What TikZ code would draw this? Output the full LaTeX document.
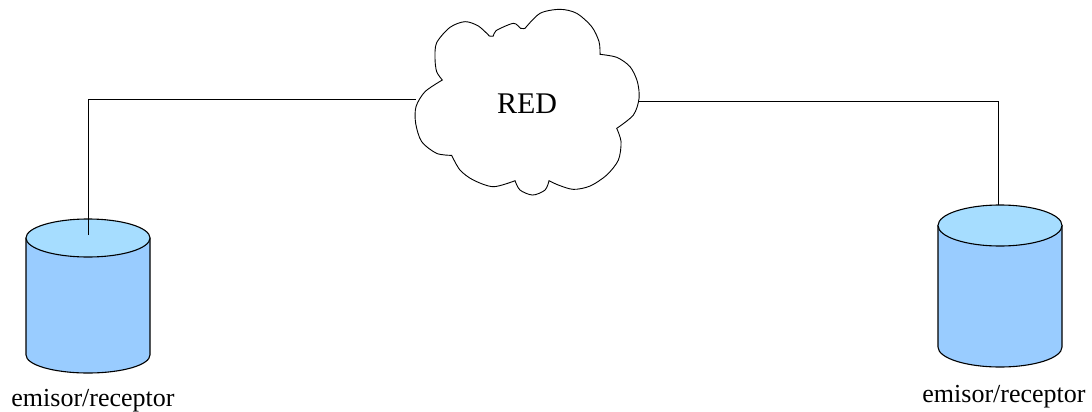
\documentclass[tikz,border=0pt]{standalone}
\usepackage{fontspec}
\setmainfont{Liberation Serif}
\definecolor{bodyblue}{HTML}{99CCFF}
\definecolor{endblue}{HTML}{A6DDFF}
\def\cloudpath{plot[smooth] coordinates {(127,240) (110,215) (105,175) (110,128) (150,82) (195,65) (235,78) (268,108)}
  -- plot[smooth] coordinates {(268,108) (280,108) (288,92) (340,70) (362,85) (375,85)}
  -- plot[smooth] coordinates {(375,85) (420,40) (480,28) (530,40) (575,80) (597,125) (600,163)}
  -- plot[smooth] coordinates {(600,163) (650,172) (690,200) (712,245) (717,295) (700,345) (650,385)}
  -- plot[smooth] coordinates {(650,385) (663,425) (655,480) (620,525) (570,558) (520,568) (475,555) (447,542)}
  -- plot[smooth] coordinates {(447,542) (435,570) (398,585) (360,570) (345,542)}
  -- plot[smooth] coordinates {(345,542) (280,560) (220,540) (180,510) (155,466)}
  -- plot[smooth] coordinates {(155,466) (110,460) (65,425) (47,370) (48,320) (75,275) (127,240)} -- cycle}
\def\leftbody{(26,238) -- (26,355) arc (180:0:62 and 18) -- (150,238) -- cycle}
\def\lefttop{(88,238) ellipse (62 and 19)}
\def\rightbody{(938,225.5) -- (938,347) arc (180:0:62 and 20) -- (1062,225.5) -- cycle}
\def\righttop{(1000,225.5) ellipse (62 and 20.5)}
\tikzset{
  body/.style={draw=black,line width=0.55pt,fill=bodyblue,line join=round},
  lid/.style={draw=black,line width=0.55pt,fill=endblue},
  hostlabel/.style={font=\fontsize{13}{15}\selectfont,anchor=base,inner sep=0pt},
  link/.style={draw=black,line width=0.45pt}
}
\begin{document}
\begin{tikzpicture}[x=0.5pt,y=-0.5pt]
        \useasboundingbox (0,0) rectangle (1092,412);
        \begin{scope}[shift={(400,0)},x=0.1667pt,y=-0.1667pt]% traced from the 3x crop
        \draw[line width=0.45pt,fill=white] \cloudpath;
        \end{scope}
        \node[font=\fontsize{15}{18}\selectfont,inner sep=0pt] (red) at (527,104) {RED};
        \coordinate (redwest) at (416,99);
        \coordinate (redeast) at (639,101);
        \draw[body] \leftbody;
        \draw[lid] \lefttop;
        \draw[body] \rightbody;
        \draw[lid] \righttop;
        \coordinate (leftport) at (88,235);
        \coordinate (rightport) at (998,205);
        \node[hostlabel] (leftlabel) at (93,406) {emisor/receptor};
        \node[hostlabel] (rightlabel) at (1004,402) {emisor/receptor};
        \draw[link] (leftport) |- (redwest);
        \draw[link] (redeast) -| (rightport);
\end{tikzpicture}
\end{document}
